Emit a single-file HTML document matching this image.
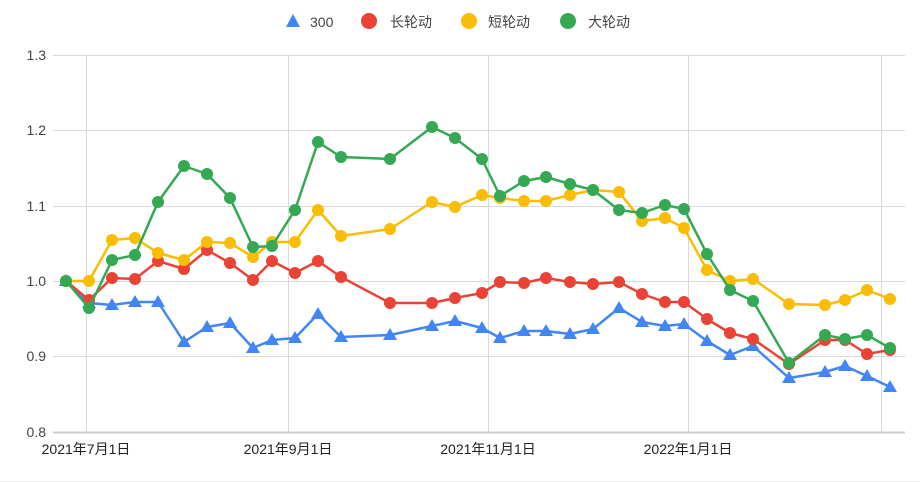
<!DOCTYPE html><html><head><meta charset="utf-8"><style>body{margin:0;background:#fff}svg{display:block;font-family:"Liberation Sans","Noto Sans CJK SC",sans-serif}</style></head><body>
<svg width="920" height="482" xmlns="http://www.w3.org/2000/svg">
<defs>
<marker id="mb" markerUnits="userSpaceOnUse" markerWidth="16" markerHeight="16" refX="8" refY="8" overflow="visible"><polygon points="8,1 15,13 1,13" fill="#4285f4"/></marker>
<marker id="mr" markerUnits="userSpaceOnUse" markerWidth="14" markerHeight="14" refX="7" refY="7" overflow="visible"><circle cx="7" cy="7" r="6" fill="#ea4335"/></marker>
<marker id="my" markerUnits="userSpaceOnUse" markerWidth="14" markerHeight="14" refX="7" refY="7" overflow="visible"><circle cx="7" cy="7" r="6" fill="#fbbc04"/></marker>
<marker id="mg" markerUnits="userSpaceOnUse" markerWidth="14" markerHeight="14" refX="7" refY="7" overflow="visible"><circle cx="7" cy="7" r="6" fill="#34a853"/></marker>
</defs>
<g stroke="#d9d9d9" stroke-width="1">
<line x1="53" y1="55.5" x2="905" y2="55.5"/><line x1="53" y1="130.5" x2="905" y2="130.5"/><line x1="53" y1="206.5" x2="905" y2="206.5"/><line x1="53" y1="281.5" x2="905" y2="281.5"/><line x1="53" y1="356.5" x2="905" y2="356.5"/>
<line x1="86.5" y1="55" x2="86.5" y2="433"/><line x1="288.5" y1="55" x2="288.5" y2="433"/><line x1="488.5" y1="55" x2="488.5" y2="433"/><line x1="688.5" y1="55" x2="688.5" y2="433"/><line x1="881.5" y1="55" x2="881.5" y2="433"/>
</g>
<line x1="53" y1="432.5" x2="905" y2="432.5" stroke="#ccc" stroke-width="2"/>
<line x1="0" y1="481.5" x2="920" y2="481.5" stroke="#eee"/>
<g font-size="14" fill="#444" text-anchor="end">
<text x="46" y="60">1.3</text><text x="46" y="135">1.2</text><text x="46" y="211">1.1</text><text x="46" y="286">1.0</text><text x="46" y="361">0.9</text><text x="46" y="437">0.8</text></g>
<g font-size="14" fill="#222" text-anchor="middle">
<text x="86" y="454">2021年7月1日</text><text x="288" y="454">2021年9月1日</text><text x="488" y="454">2021年11月1日</text><text x="688" y="454">2022年1月1日</text></g>
<g font-size="14" fill="#444">
<polygon points="293,14 300,27 286,27" fill="#4285f4"/><text x="310" y="27">300</text>
<circle cx="369" cy="21" r="8" fill="#ea4335"/><text x="390" y="27">长轮动</text>
<circle cx="469" cy="21" r="8" fill="#fbbc04"/><text x="488" y="27">短轮动</text>
<circle cx="568" cy="21" r="8" fill="#34a853"/><text x="588" y="27">大轮动</text>
</g>
<g fill="none" stroke-width="2.5" stroke-linejoin="round">
<polyline stroke="#4285f4" marker-start="url(#mb)" marker-mid="url(#mb)" marker-end="url(#mb)" points="66,281 89,303 112,305 135,302 158,302 184,342 207,327 230,323 253,348 272,340 295,338 318,314 341,337 390,335 432,326 455,321 482,328 500,338 524,331 546,331 570,334 593,329 619,308 642,322 665,326 684,324 707,341 730,355 753,346 789,378 825,372 845,366 867,376 890,387"/>
<polyline stroke="#ea4335" marker-start="url(#mr)" marker-mid="url(#mr)" marker-end="url(#mr)" points="66,281 89,300 112,278 135,279 158,261 184,269 207,250 230,263 253,280 272,261 295,273 318,261 341,277 390,303 432,303 455,298 482,293 500,282 524,283 546,278 570,282 593,284 619,282 642,294 665,302 684,302 707,319 730,333 753,339 789,364 825,340 845,340 867,354 890,350"/>
<polyline stroke="#fbbc04" marker-start="url(#my)" marker-mid="url(#my)" marker-end="url(#my)" points="66,281 89,281 112,240 135,238 158,253 184,260 207,242 230,243 253,257 272,242 295,242 318,210 341,236 390,229 432,202 455,207 482,195 500,198 524,201 546,201 570,195 593,190 619,192 642,221 665,218 684,228 707,270 730,281 753,279 789,304 825,305 845,300 867,290 890,299"/>
<polyline stroke="#34a853" marker-start="url(#mg)" marker-mid="url(#mg)" marker-end="url(#mg)" points="66,281 89,308 112,260 135,255 158,202 184,166 207,174 230,198 253,247 272,246 295,210 318,142 341,157 390,159 432,127 455,138 482,159 500,196 524,181 546,177 570,184 593,190 619,210 642,213 665,205 684,209 707,254 730,290 753,301 789,363 825,335 845,339 867,335 890,348"/>
</g>
</svg></body></html>
